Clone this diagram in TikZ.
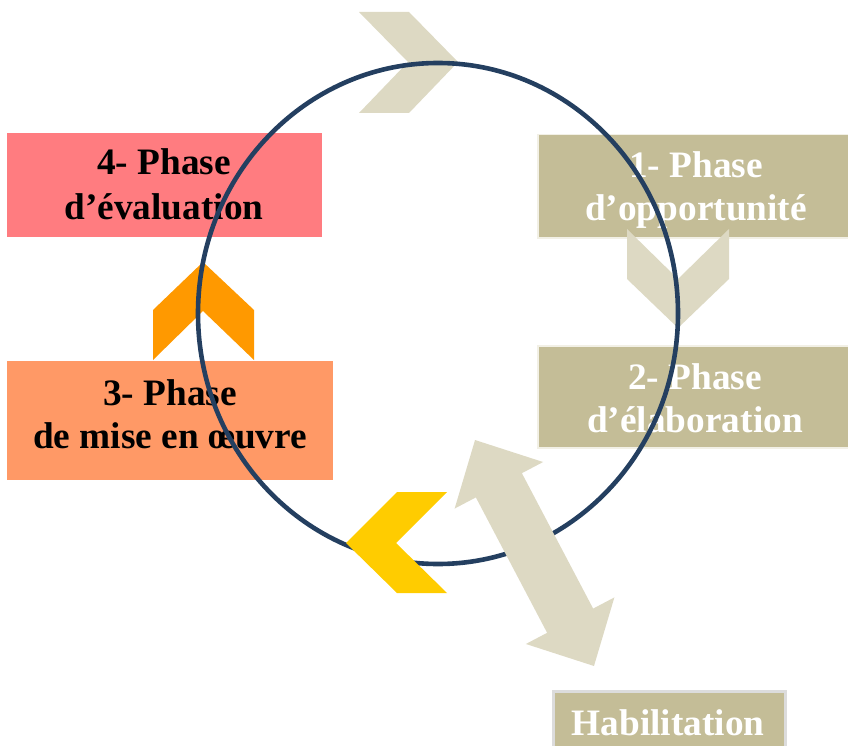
\documentclass[tikz,border=0pt]{standalone}
\usepackage{fontspec}
\setmainfont{Liberation Serif}
\definecolor{pinkbox}{HTML}{FF7C80}
\definecolor{salmonbox}{HTML}{FF9966}
\definecolor{tanbox}{HTML}{C4BD97}
\definecolor{tanedge}{HTML}{F2F0E6}
\definecolor{tanlight}{HTML}{DDD9C3}
\definecolor{orangechev}{HTML}{FF9900}
\definecolor{yellowchev}{HTML}{FFCC00}
\definecolor{cyclenavy}{HTML}{243F60}
\definecolor{habedge}{HTML}{DCDCDC}
\begin{document}
\begin{tikzpicture}[x=1pt,y=-1pt,
  phasebox/.style={rectangle, inner sep=0pt, anchor=north west},
  lbl/.style={font=\bfseries\fontsize{37.3}{42}\selectfont, anchor=base, inner sep=0pt},
  chev/.style={draw=none}]
\useasboundingbox (0,0) rectangle (848,746);

% phase boxes
\node[phasebox, fill=pinkbox, minimum width=315pt, minimum height=104pt] (p4) at (7,133) {};
\node[phasebox, fill=salmonbox, minimum width=326pt, minimum height=119pt] (p3) at (7,361) {};
\node[phasebox, fill=tanbox, draw=tanedge, line width=1.5pt, minimum width=320pt, minimum height=103pt] (p1) at (537,134) {};
\node[phasebox, fill=tanbox, draw=tanedge, line width=1.5pt, minimum width=320pt, minimum height=102pt] (p2) at (537,345) {};
\node[phasebox, fill=tanbox, draw=habedge, line width=2.5pt, minimum width=232pt, minimum height=70pt] (hab) at (552,690) {};

% chevrons behind the cycle
\fill[tanlight] (359,12) -- (409,12) -- (458,62) -- (409,113) -- (359,113) -- (408,62) -- cycle;
\fill[tanlight] (627,229) -- (678,279) -- (729,229) -- (729,279) -- (678,328) -- (627,279) -- cycle;
\fill[orangechev] (153,360) -- (203,311) -- (254,360) -- (254,310) -- (203,262) -- (153,310) -- cycle;

% labels
\node[lbl, text=white] (p1a) at (696,178) {1- Phase};
\node[lbl, text=white] (p1b) at (696,220) {d’opportunité};
\node[lbl, text=white] (p2a) at (695,389) {2- Phase};
\node[lbl, text=white] (p2b) at (695,432) {d’élaboration};
\node[lbl, text=black] (p3a) at (170,405) {3- Phase};
\node[lbl, text=black] (p3b) at (170,448) {de mise en œuvre};
\node[lbl, text=black] (p4a) at (164,175) {4- Phase};
\node[lbl, text=black] (p4b) at (164,219) {d’évaluation};
\node[lbl, text=white] (haba) at (668,735) {Habilitation};

% the cycle
\draw[cyclenavy, line width=4.6pt] (438,313.5) ellipse [x radius=240, y radius=250.5];

% shapes in front of the cycle
\fill[yellowchev] (447,492) -- (397,492) -- (346,543) -- (397,593) -- (447,593) -- (396,543) -- cycle;
\begin{scope}[shift={(534.5,553)}, rotate=-62.24]
  \fill[tanlight] (-127.7,0) -- (-76.5,50) -- (-76.5,26) -- (76.5,26) -- (76.5,50)
    -- (127.7,0) -- (76.5,-50) -- (76.5,-26) -- (-76.5,-26) -- (-76.5,-50) -- cycle;
\end{scope}
\end{tikzpicture}
\end{document}
